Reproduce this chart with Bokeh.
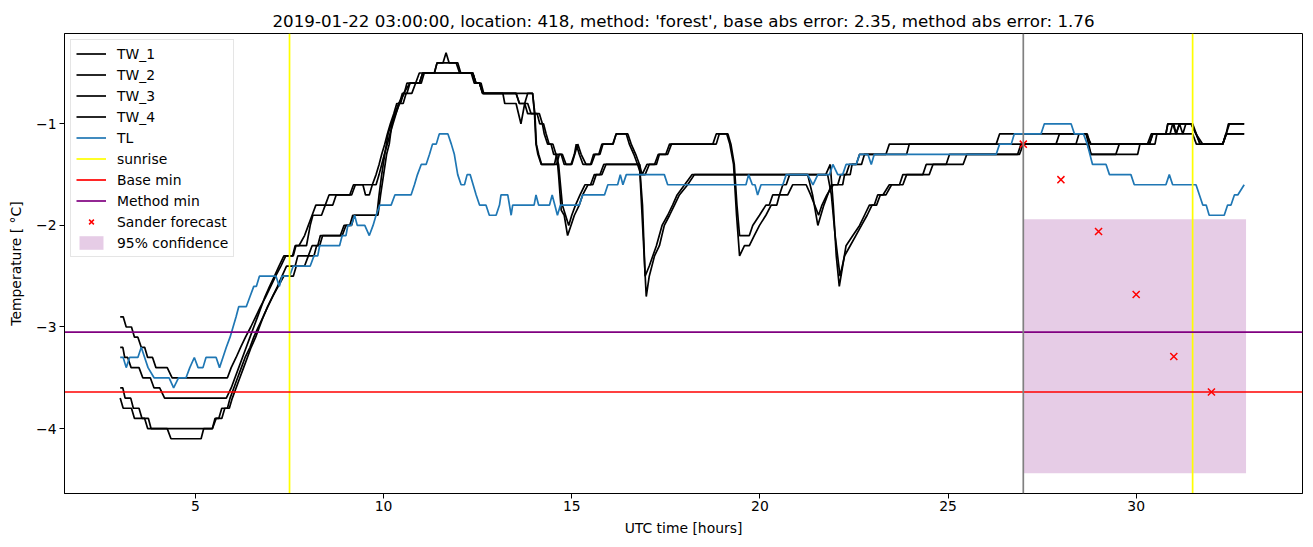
from bokeh.plotting import figure
from bokeh.models import Range1d, FixedTicker, Span, Legend, LegendItem
from bokeh.embed import file_html
from bokeh.resources import INLINE

# ---------------- data (hours UTC, temperature degC) ----------------
tw1 = [(3.0,-2.9),(3.08,-2.9),(3.16,-3.0),(3.3,-3.0),(3.38,-3.1),(3.47,-3.1),(3.56,-3.2),(3.65,-3.2),
       (3.73,-3.3),(3.86,-3.3),(3.95,-3.4),(4.25,-3.4),(4.38,-3.5),(5.85,-3.5),(5.95,-3.4),(6.08,-3.3),
       (6.2,-3.2),(6.33,-3.1),(6.47,-3.0),(6.6,-2.9),(6.73,-2.8),(6.87,-2.7),(7.0,-2.6),(7.13,-2.5),
       (7.27,-2.4),(7.4,-2.3),(7.6,-2.3),(7.67,-2.2),(7.95,-2.2),(8.05,-2.0),(8.12,-1.9),(8.35,-1.9),
       (8.45,-1.8),(8.65,-1.8),(8.74,-1.7),(9.1,-1.7),(9.2,-1.6),(9.45,-1.6),(9.52,-1.7),(9.62,-1.7),
       (9.7,-1.6),(9.8,-1.5),(9.88,-1.4),(9.95,-1.3),(10.03,-1.2),(10.1,-1.1),(10.18,-1.0),(10.27,-0.9),
       (10.35,-0.8),(10.45,-0.8),(10.53,-0.7),(10.7,-0.6),(10.85,-0.6),(10.95,-0.5),(11.35,-0.5),
       (11.42,-0.4),(11.58,-0.4),(11.66,-0.3),(11.74,-0.4),(11.93,-0.4),(12.02,-0.5),(12.37,-0.5),
       (12.46,-0.6),(12.55,-0.6),(12.64,-0.7),(13.96,-0.7),(14.01,-0.9),(14.05,-1.2),(14.1,-1.3),
       (14.19,-1.4),(14.54,-1.4),(14.6,-1.3),(14.72,-1.3),(14.8,-1.4),(14.98,-1.4),(15.07,-1.3),
       (15.12,-1.2),(15.2,-1.3),(15.3,-1.4),(15.5,-1.4),(15.58,-1.3),(15.75,-1.3),(15.83,-1.2),
       (16.1,-1.2),(16.18,-1.1),(16.49,-1.1),(16.58,-1.2),(16.7,-1.3),(16.8,-1.4),(16.87,-1.5),
       (17.0,-1.4),(17.2,-1.4),(17.3,-1.3),(17.5,-1.3),(17.6,-1.2),(18.75,-1.2),(18.84,-1.1),
       (19.15,-1.1),(19.23,-1.2),(19.32,-1.4),(19.39,-1.8),(19.46,-2.1),(19.72,-2.1),(19.81,-2.0),
       (19.99,-1.9),(20.16,-1.8),(20.25,-1.8),(20.34,-1.7),(20.52,-1.7),(20.61,-1.6),(20.7,-1.6),
       (20.79,-1.5),(21.27,-1.5),(21.4,-1.7),(21.54,-2.0),(21.62,-1.9),(21.7,-1.8),(21.8,-1.7),
       (21.9,-1.6),(22.07,-1.6),(22.15,-1.5),(22.29,-1.5),(22.38,-1.4),(22.56,-1.4),(22.65,-1.3),
       (23.35,-1.3),(23.44,-1.2),(26.28,-1.2),(26.37,-1.1),(28.67,-1.1),(28.8,-1.2),(30.35,-1.2),
       (30.44,-1.1),(30.79,-1.1),(30.84,-1.0),(30.97,-1.0),(31.06,-1.1),(31.15,-1.0),(31.24,-1.1),
       (31.32,-1.0),(31.46,-1.0),(31.59,-1.1),(31.77,-1.2),(32.3,-1.2),(32.39,-1.1),(32.45,-1.0),
       (32.87,-1.0)]

tw2 = [(3.0,-3.2),(3.07,-3.2),(3.12,-3.3),(3.2,-3.3),(3.29,-3.4),(3.5,-3.4),(3.6,-3.5),(3.8,-3.5),
       (3.9,-3.6),(4.05,-3.6),(4.18,-3.7),(5.82,-3.7),(5.95,-3.6),(6.05,-3.5),(6.15,-3.4),(6.25,-3.3),
       (6.35,-3.2),(6.45,-3.1),(6.55,-3.0),(6.65,-2.9),(6.75,-2.8),(6.85,-2.7),(6.97,-2.6),(7.1,-2.5),
       (7.22,-2.4),(7.35,-2.3),(7.58,-2.3),(7.65,-2.2),(7.75,-2.2),(7.9,-2.1),(8.0,-2.0),(8.1,-1.9),
       (8.2,-1.8),(8.45,-1.8),(8.55,-1.7),(9.15,-1.7),(9.25,-1.6),(9.8,-1.6),(9.88,-1.5),(9.95,-1.4),
       (10.02,-1.3),(10.1,-1.2),(10.17,-1.1),(10.25,-1.0),(10.33,-0.9),(10.42,-0.8),(10.5,-0.7),
       (10.62,-0.7),(10.7,-0.6),(10.95,-0.6),(11.04,-0.5),(11.35,-0.5),(11.42,-0.4),(11.97,-0.4),
       (12.05,-0.5),(12.37,-0.5),(12.45,-0.6),(12.55,-0.6),(12.63,-0.7),(13.17,-0.7),(13.22,-0.8),
       (13.52,-0.8),(13.65,-1.0),(13.75,-0.8),(13.83,-0.7),(13.96,-0.7),(14.02,-0.9),(14.06,-1.2),
       (14.12,-1.3),(14.2,-1.4),(14.6,-1.4),(14.67,-1.3),(14.75,-1.3),(14.85,-1.4),(15.0,-1.4),
       (15.08,-1.3),(15.16,-1.2),(15.25,-1.3),(15.38,-1.4),(15.52,-1.4),(15.62,-1.3),(15.72,-1.3),
       (15.8,-1.2),(16.09,-1.2),(16.18,-1.1),(16.45,-1.1),(16.53,-1.2),(16.65,-1.3),(16.75,-1.4),
       (16.84,-1.5),(16.95,-1.5),(17.06,-1.4),(17.25,-1.4),(17.33,-1.3),(17.55,-1.3),(17.65,-1.2),
       (18.84,-1.2),(18.92,-1.1),(19.12,-1.1),(19.2,-1.2),(19.3,-1.4),(19.38,-1.9),(19.46,-2.3),
       (19.59,-2.2),(19.72,-2.2),(19.85,-2.1),(19.99,-2.0),(20.16,-1.9),(20.3,-1.8),(20.45,-1.8),
       (20.52,-1.7),(20.74,-1.7),(20.87,-1.6),(21.23,-1.6),(21.35,-1.7),(21.56,-1.9),(21.65,-1.8),
       (21.78,-1.7),(21.95,-1.6),(22.2,-1.6),(22.25,-1.5),(22.4,-1.5),(22.45,-1.4),(22.7,-1.4),
       (22.78,-1.3),(23.9,-1.3),(23.97,-1.2),(27.87,-1.2),(27.96,-1.1),(28.7,-1.1),(28.78,-1.2),
       (30.3,-1.2),(30.4,-1.1),(30.9,-1.1),(30.97,-1.0),(31.5,-1.0),(31.6,-1.1),(31.7,-1.2),
       (32.3,-1.2),(32.4,-1.1),(32.87,-1.1)]

tw3 = [(3.0,-3.6),(3.07,-3.6),(3.13,-3.7),(3.28,-3.7),(3.35,-3.8),(3.5,-3.8),(3.58,-3.9),(3.75,-3.9),
       (3.82,-4.0),(5.45,-4.0),(5.55,-3.9),(5.7,-3.9),(5.78,-3.8),(5.9,-3.8),(5.98,-3.7),(6.08,-3.6),
       (6.18,-3.5),(6.28,-3.4),(6.38,-3.3),(6.48,-3.2),(6.6,-3.1),(6.7,-3.0),(6.8,-2.9),(6.92,-2.8),
       (7.05,-2.7),(7.18,-2.6),(7.3,-2.5),(7.42,-2.4),(7.65,-2.4),(7.72,-2.3),(8.0,-2.3),(8.1,-2.2),
       (8.25,-2.2),(8.32,-2.1),(8.85,-2.1),(8.95,-2.0),(9.1,-2.0),(9.18,-1.9),(9.82,-1.9),(9.88,-1.7),
       (9.95,-1.5),(10.03,-1.3),(10.12,-1.1),(10.2,-1.0),(10.3,-0.9),(10.4,-0.8),(10.55,-0.7),
       (10.62,-0.6),(10.95,-0.6),(11.04,-0.5),(12.33,-0.5),(12.41,-0.6),(12.59,-0.6),(12.66,-0.7),
       (13.52,-0.7),(13.61,-0.8),(13.75,-0.8),(13.83,-0.9),(14.14,-0.9),(14.22,-1.0),(14.27,-1.1),
       (14.36,-1.2),(14.45,-1.2),(14.52,-1.3),(14.6,-1.3),(14.65,-1.5),(14.72,-1.85),(14.8,-1.9),
       (14.89,-2.1),(14.98,-2.0),(15.07,-1.9),(15.2,-1.8),(15.29,-1.7),(15.43,-1.6),(15.56,-1.6),
       (15.65,-1.5),(15.8,-1.5),(15.91,-1.4),(16.8,-1.4),(16.89,-2.05),(16.98,-2.7),(17.06,-2.5),
       (17.2,-2.3),(17.33,-2.2),(17.46,-2.0),(17.6,-1.9),(17.73,-1.8),(17.86,-1.7),(18.08,-1.6),
       (18.26,-1.5),(21.75,-1.5),(21.87,-1.4),(21.95,-1.8),(22.03,-2.3),(22.11,-2.6),(22.2,-2.4),
       (22.29,-2.2),(22.47,-2.1),(22.65,-2.0),(22.78,-1.9),(22.91,-1.8),(23.04,-1.8),(23.13,-1.7),
       (23.27,-1.7),(23.44,-1.6),(23.71,-1.6),(23.8,-1.5),(24.33,-1.5),(24.42,-1.4),(24.95,-1.4),
       (25.04,-1.3),(26.85,-1.3),(26.94,-1.2),(28.4,-1.2),(28.48,-1.1),(28.67,-1.1),(28.8,-1.3),
       (29.46,-1.3),(29.55,-1.2),(30.35,-1.2),(30.44,-1.1),(30.79,-1.1),(30.84,-1.0),(31.0,-1.0),
       (31.06,-1.1),(31.15,-1.0),(31.46,-1.0),(31.59,-1.1),(31.7,-1.2),(32.3,-1.2),(32.39,-1.1),
       (32.48,-1.0),(32.87,-1.0)]

tw4 = [(3.0,-3.7),(3.08,-3.8),(3.3,-3.8),(3.38,-3.9),(3.65,-3.9),(3.73,-4.0),(4.25,-4.0),(4.35,-4.1),
       (5.15,-4.1),(5.22,-4.0),(5.45,-4.0),(5.52,-3.9),(5.62,-3.9),(5.7,-3.8),(5.85,-3.8),(5.92,-3.7),
       (6.02,-3.6),(6.12,-3.5),(6.22,-3.4),(6.32,-3.3),(6.45,-3.2),(6.55,-3.1),(6.67,-3.0),(6.8,-2.9),
       (6.92,-2.8),(7.05,-2.7),(7.2,-2.6),(7.35,-2.5),(7.6,-2.5),(7.68,-2.4),(7.9,-2.4),(8.0,-2.3),
       (8.15,-2.3),(8.22,-2.2),(8.3,-2.2),(8.38,-2.1),(8.9,-2.1),(9.0,-2.0),(9.15,-2.0),(9.22,-1.9),
       (9.85,-1.9),(9.92,-1.7),(10.0,-1.5),(10.08,-1.3),(10.15,-1.2),(10.22,-1.0),(10.32,-0.9),
       (10.42,-0.8),(10.52,-0.8),(10.6,-0.7),(10.75,-0.7),(10.85,-0.6),(11.0,-0.6),(11.08,-0.5),
       (12.37,-0.5),(12.45,-0.6),(12.55,-0.6),(12.63,-0.7),(13.52,-0.7),(13.61,-0.8),(13.83,-0.8),
       (13.92,-0.9),(14.08,-0.9),(14.15,-1.0),(14.25,-1.0),(14.32,-1.1),(14.4,-1.2),(14.5,-1.2),
       (14.58,-1.3),(14.65,-1.4),(14.75,-1.8),(14.92,-2.0),(15.0,-1.9),(15.1,-1.8),(15.22,-1.7),
       (15.35,-1.6),(15.5,-1.6),(15.6,-1.5),(15.75,-1.5),(15.85,-1.4),(16.8,-1.4),(16.88,-1.8),
       (16.95,-2.5),(17.06,-2.4),(17.25,-2.2),(17.4,-2.0),(17.55,-1.9),(17.68,-1.8),(17.8,-1.7),
       (18.0,-1.6),(18.2,-1.5),(21.8,-1.5),(21.9,-1.7),(22.0,-2.1),(22.13,-2.5),(22.25,-2.3),
       (22.4,-2.2),(22.55,-2.1),(22.7,-2.0),(22.85,-1.9),(22.98,-1.8),(23.1,-1.8),(23.2,-1.7),
       (23.35,-1.7),(23.5,-1.6),(23.8,-1.6),(23.9,-1.5),(24.5,-1.5),(24.6,-1.4),(25.4,-1.4),
       (25.5,-1.3),(26.9,-1.3),(27.0,-1.2),(28.7,-1.2),(28.8,-1.3),(30.04,-1.3),(30.1,-1.2),
       (30.5,-1.2),(30.55,-1.1),(31.5,-1.1),(31.6,-1.2),(32.3,-1.2),(32.38,-1.1),(32.87,-1.1)]

tl = [(3.0,-3.3),(3.08,-3.3),(3.16,-3.4),(3.25,-3.3),(3.47,-3.3),(3.56,-3.2),(3.65,-3.3),(3.74,-3.4),
      (3.9,-3.5),(4.3,-3.5),(4.42,-3.6),(4.55,-3.5),(4.75,-3.5),(4.85,-3.4),(4.97,-3.3),(5.07,-3.4),
      (5.2,-3.4),(5.28,-3.3),(5.55,-3.3),(5.64,-3.4),(5.73,-3.3),(5.82,-3.2),(5.92,-3.1),(6.0,-3.0),
      (6.08,-2.9),(6.15,-2.8),(6.35,-2.8),(6.45,-2.7),(6.55,-2.6),(6.62,-2.6),(6.7,-2.5),(7.14,-2.5),
      (7.23,-2.6),(7.3,-2.5),(7.5,-2.5),(7.6,-2.4),(8.05,-2.4),(8.15,-2.3),(8.25,-2.3),(8.3,-2.2),
      (8.83,-2.2),(8.9,-2.1),(9.0,-2.1),(9.05,-2.0),(9.14,-2.0),(9.23,-1.9),(9.3,-2.0),(9.5,-2.0),
      (9.62,-2.1),(9.72,-2.0),(9.8,-1.9),(9.9,-1.8),(10.2,-1.8),(10.3,-1.7),(10.73,-1.7),(10.82,-1.6),
      (10.9,-1.5),(11.0,-1.4),(11.13,-1.4),(11.22,-1.3),(11.3,-1.2),(11.4,-1.2),(11.48,-1.1),
      (11.71,-1.1),(11.8,-1.2),(11.88,-1.3),(11.97,-1.5),(12.06,-1.6),(12.15,-1.6),(12.22,-1.5),
      (12.3,-1.5),(12.38,-1.6),(12.46,-1.7),(12.55,-1.8),(12.72,-1.8),(12.81,-1.9),(12.99,-1.9),
      (13.08,-1.8),(13.12,-1.7),(13.3,-1.7),(13.39,-1.9),(13.43,-1.8),(14.0,-1.8),(14.05,-1.7),
      (14.12,-1.8),(14.41,-1.8),(14.48,-1.7),(14.55,-1.8),(14.62,-1.9),(14.7,-1.8),(15.2,-1.8),
      (15.29,-1.7),(15.87,-1.7),(15.96,-1.6),(16.22,-1.6),(16.29,-1.5),(16.36,-1.6),(16.45,-1.5),
      (17.46,-1.5),(17.55,-1.6),(19.63,-1.6),(19.7,-1.5),(19.8,-1.6),(19.87,-1.6),(19.94,-1.7),
      (20.03,-1.6),(20.61,-1.6),(20.7,-1.5),(21.27,-1.5),(21.41,-1.6),(21.54,-1.5),(21.85,-1.5),
      (21.94,-1.4),(22.07,-1.5),(22.2,-1.5),(22.29,-1.4),(22.56,-1.4),(22.65,-1.3),(22.87,-1.3),
      (22.96,-1.4),(23.04,-1.3),(26.28,-1.3),(26.37,-1.2),(26.68,-1.2),(26.76,-1.1),(27.47,-1.1),
      (27.56,-1.0),(28.27,-1.0),(28.36,-1.1),(28.6,-1.1),(28.7,-1.2),(28.84,-1.4),(29.2,-1.4),
      (29.29,-1.5),(29.86,-1.5),(29.95,-1.6),(30.79,-1.6),(30.88,-1.5),(30.97,-1.6),(31.59,-1.6),
      (31.77,-1.8),(31.86,-1.8),(31.94,-1.9),(32.34,-1.9),(32.43,-1.8),(32.52,-1.8),(32.61,-1.7),
      (32.7,-1.7),(32.87,-1.6)]

sunrise_hours = [7.5, 31.5]
forecast_start = [27.0]
base_min = [-3.64]
method_min = [-3.05]
forecast_hours = [27, 28, 29, 30, 31, 32]
forecast_temp = [-1.2, -1.55, -2.06, -2.68, -3.29, -3.64]
conf_hours = [27.0, 32.92]
conf_low = [-4.44, -4.44]
conf_high = [-1.94, -1.94]
x_ticks = [5, 10, 15, 20, 25, 30]
y_ticks = [-4, -3, -2, -1]

title = ("2019-01-22 03:00:00, location: 418, method: 'forest', "
         "base abs error: 2.35, method abs error: 1.76")

FONT = "DejaVu Sans"
LBL = "13.9px"
xr = Range1d(1.52, 34.42)
yr = Range1d(-4.639, -0.111)

p = figure(width=1308, height=543, x_range=xr, y_range=yr,
           output_backend="svg", toolbar_location=None, title=title,
           frame_width=1238, frame_height=460,
           min_border_left=64, min_border_right=6, min_border_top=33, min_border_bottom=50)
p.title.text_font = FONT
p.title.text_font_size = "16.7px"
p.title.text_font_style = "normal"
p.title.align = "center"
p.title.text_color = "black"
p.title.standoff = 6
p.grid.visible = False
p.outline_line_color = "black"
p.outline_line_width = 1
p.background_fill_color = "white"
p.border_fill_color = "white"

for ax in (p.xaxis[0], p.yaxis[0]):
    ax.axis_line_color = "black"
    ax.major_tick_line_color = "black"
    ax.minor_tick_line_color = None
    ax.major_tick_out = 5
    ax.major_tick_in = 0
    ax.major_label_text_font = FONT
    ax.major_label_text_font_size = LBL
    ax.major_label_text_color = "black"
    ax.axis_label_text_font = FONT
    ax.axis_label_text_font_size = LBL
    ax.axis_label_text_font_style = "normal"
    ax.axis_label_text_color = "black"

p.xaxis.major_label_standoff = 2
p.yaxis.major_label_standoff = 3
p.xaxis.ticker = FixedTicker(ticks=x_ticks)
p.yaxis.ticker = FixedTicker(ticks=y_ticks)
p.yaxis.major_label_overrides = {t: "\u2212" + str(abs(t)) for t in y_ticks}
p.xaxis.axis_label = "UTC time [hours]"
p.yaxis.axis_label = "Temperature [ \u00b0C]"
p.xaxis.axis_label_standoff = 6
p.yaxis.axis_label_standoff = 9

# confidence band (below lines)
r_conf = p.varea(x=conf_hours, y1=conf_low, y2=conf_high, fill_color="purple", fill_alpha=0.2)

items = []
for name, ser in (("TW_1", tw1), ("TW_2", tw2), ("TW_3", tw3), ("TW_4", tw4)):
    r = p.line([a for a, b in ser], [b for a, b in ser], line_color="black", line_width=1.7)
    items.append(LegendItem(label=name, renderers=[r]))
r_tl = p.line([a for a, b in tl], [b for a, b in tl], line_color="#1f77b4", line_width=1.7)
items.append(LegendItem(label="TL", renderers=[r_tl]))

p.add_layout(Span(location=forecast_start[0], dimension="height", line_color="gray", line_width=1.7))

r_sun = p.segment(x0=sunrise_hours, y0=[yr.start] * len(sunrise_hours),
                  x1=sunrise_hours, y1=[yr.end] * len(sunrise_hours),
                  line_color="yellow", line_width=1.7)
items.append(LegendItem(label="sunrise", renderers=[r_sun]))
r_base = p.segment(x0=[xr.start], y0=base_min, x1=[xr.end], y1=base_min,
                   line_color="red", line_width=1.7)
items.append(LegendItem(label="Base min", renderers=[r_base]))
r_meth = p.segment(x0=[xr.start], y0=method_min, x1=[xr.end], y1=method_min,
                   line_color="purple", line_width=1.7)
items.append(LegendItem(label="Method min", renderers=[r_meth]))
r_fc = p.scatter(forecast_hours, forecast_temp, marker="x", size=10, line_color="red", line_width=1.5)
items.append(LegendItem(label="Sander forecast", renderers=[r_fc]))
items.append(LegendItem(label="95% confidence", renderers=[r_conf]))

legend = Legend(items=items, location="top_left", margin=6, padding=5, spacing=4,
                label_height=17, glyph_height=17, glyph_width=30, label_standoff=11,
                label_text_font=FONT, label_text_font_size=LBL, label_text_color="black",
                border_line_color="#cccccc", border_line_width=1,
                background_fill_color="white", background_fill_alpha=0.8)
p.add_layout(legend)

open("out.html", "w").write(file_html(p, INLINE))
